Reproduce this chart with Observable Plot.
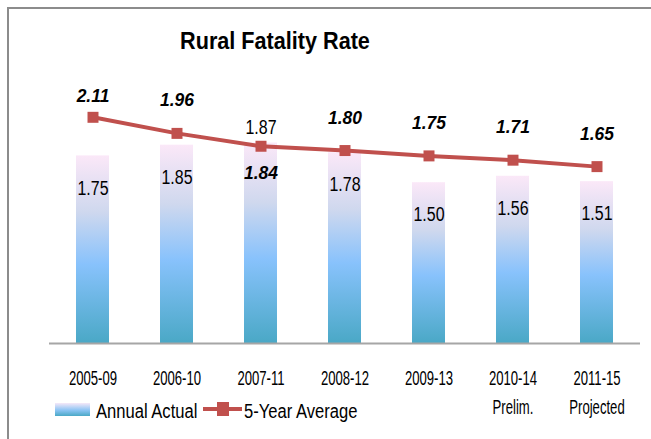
<!DOCTYPE html>
<html>
<head>
<meta charset="utf-8">
<script src="https://cdn.jsdelivr.net/npm/d3@7"></script>
<script src="https://cdn.jsdelivr.net/npm/@observablehq/plot@0.6"></script>
<style>
  html, body { margin: 0; padding: 0; background: #fff; }
  #chart { position: relative; width: 651px; height: 439px; overflow: hidden; }
</style>
</head>
<body>
<div id="chart"></div>
<script>
const title = "Rural Fatality Rate";
const categories = ["2005-09", "2006-10", "2007-11", "2008-12", "2009-13", "2010-14", "2011-15"];
const tickLabels = ["2005-09", "2006-10", "2007-11", "2008-12", "2009-13", "2010-14\nPrelim.", "2011-15\nProjected"];
const annualActual = [1.75, 1.85, 1.87, 1.78, 1.50, 1.56, 1.51];
const fiveYearAverage = [2.11, 1.96, 1.84, 1.80, 1.75, 1.71, 1.65];
const seriesNames = ["Annual Actual", "5-Year Average"];

const rows = categories.map((c, i) => ({
  cat: c, tick: tickLabels[i], actual: annualActual[i], avg: fiveYearAverage[i]
}));

const FONT = "'Liberation Sans', Arial, sans-serif";
const RED = "#c0504d";
const fmt = d3.format(".2f");

// special label placements seen in the reference
const swapCat = "2007-11";     // bar label above the line, line label below
const firstCat = "2005-09";    // line label closer to the marker

const avgLabel = {x: "cat", y: "avg", text: d => fmt(d.avg), fontSize: 19, fontWeight: "bold", fontStyle: "italic", fill: "#000"};
const barLabel = {x: "cat", y: "actual", text: d => fmt(d.actual), fontSize: 21, fill: "#000"};

const plot = Plot.plot({
  width: 651,
  height: 439,
  marginLeft: 49,
  marginRight: 11,
  marginTop: 75,
  marginBottom: 96,
  style: { fontFamily: FONT, background: "transparent", overflow: "visible" },
  x: { domain: categories, paddingInner: 0.61, paddingOuter: 0.305, axis: null },
  y: { domain: [0, 2.5], axis: null },
  marks: [
    Plot.barY(rows, { x: "cat", y: "actual", fill: "url(#barGrad)" }),
    Plot.ruleY([0], { stroke: "#a6a6a6", strokeWidth: 2 }),
    Plot.line(rows, { x: "cat", y: "avg", stroke: RED, strokeWidth: 4 }),
    Plot.dot(rows, { x: "cat", y: "avg", symbol: "square", r: 6.2, fill: RED, stroke: "none" }),
    // bar value labels
    Plot.text(rows.filter(d => d.cat !== swapCat), { ...barLabel, dy: 32 }),
    Plot.text(rows.filter(d => d.cat === swapCat), { ...barLabel, dy: -16 }),
    // line value labels
    Plot.text(rows.filter(d => d.cat !== swapCat && d.cat !== firstCat), { ...avgLabel, dy: -33 }),
    Plot.text(rows.filter(d => d.cat === firstCat), { ...avgLabel, dy: -21 }),
    Plot.text(rows.filter(d => d.cat === swapCat), { ...avgLabel, dy: 27 }),
    // category tick labels
    Plot.text(rows, {
      x: "cat", text: "tick", frameAnchor: "bottom", lineAnchor: "top", dy: 21,
      lineHeight: 1.4, fontSize: 20.5, fill: "#000"
    })
  ]
});

const svg = d3.select(plot);

// narrow the glyphs horizontally (condensed look of the original), keyed by font size
const squeezeBySize = { "21": 0.76, "19": 0.92, "20.5": 0.64 };
svg.selectAll("text").each(function () {
  let fs = null;
  for (let n = this; n && n !== plot; n = n.parentNode) {
    const a = n.getAttribute && n.getAttribute("font-size");
    if (a) { fs = String(parseFloat(a)); break; }
  }
  const k = squeezeBySize[fs];
  if (!k) return;
  const t = this.getAttribute("transform");
  if (t) {
    this.setAttribute("transform", t + ` scale(${k},1)`);
  } else {
    const x = +(this.getAttribute("x") || 0), y = +(this.getAttribute("y") || 0);
    this.setAttribute("x", 0); this.setAttribute("y", 0);
    this.setAttribute("transform", `translate(${x},${y}) scale(${k},1)`);
  }
});

const defs = svg.insert("defs", ":first-child");
const grad = defs.append("linearGradient").attr("id", "barGrad")
  .attr("x1", 0).attr("y1", 0).attr("x2", 0).attr("y2", 1);
grad.append("stop").attr("offset", "0%").attr("stop-color", "#fbe8f8");
grad.append("stop").attr("offset", "30%").attr("stop-color", "#cfd8ee");
grad.append("stop").attr("offset", "58%").attr("stop-color", "#88c2fc");
grad.append("stop").attr("offset", "100%").attr("stop-color", "#4aa8c6");

const legGrad = defs.append("linearGradient").attr("id", "legGrad")
  .attr("x1", 0).attr("y1", 0).attr("x2", 0).attr("y2", 1);
legGrad.append("stop").attr("offset", "0%").attr("stop-color", "#f6e8f8");
legGrad.append("stop").attr("offset", "55%").attr("stop-color", "#8cc4f4");
legGrad.append("stop").attr("offset", "100%").attr("stop-color", "#4aa8c6");

// frame border (top and left)
svg.append("path").attr("d", "M8,439V8H651").attr("fill", "none")
  .attr("stroke", "#8c8c8c").attr("stroke-width", 2);

// title
svg.append("text").attr("transform", "translate(275,49) scale(0.94,1)").attr("text-anchor", "middle")
  .attr("font-family", FONT).attr("font-weight", "bold").attr("font-size", 23)
  .attr("fill", "#000").text(title);

// legend
const leg = svg.append("g").attr("font-family", FONT).attr("fill", "#000")
  .attr("text-anchor", "start").style("font-size", "21px");
leg.append("rect").attr("x", 55).attr("y", 403).attr("width", 35).attr("height", 13).attr("fill", "url(#legGrad)");
leg.append("text").attr("transform", "translate(96,418) scale(0.79,1)").text(seriesNames[0]);
leg.append("line").attr("x1", 203).attr("x2", 242).attr("y1", 409).attr("y2", 409)
  .attr("stroke", RED).attr("stroke-width", 4);
leg.append("rect").attr("x", 217).attr("y", 402).attr("width", 12).attr("height", 14).attr("fill", RED);
leg.append("text").attr("transform", "translate(244,418) scale(0.79,1)").text(seriesNames[1]);

document.getElementById("chart").appendChild(plot);
</script>
</body>
</html>
